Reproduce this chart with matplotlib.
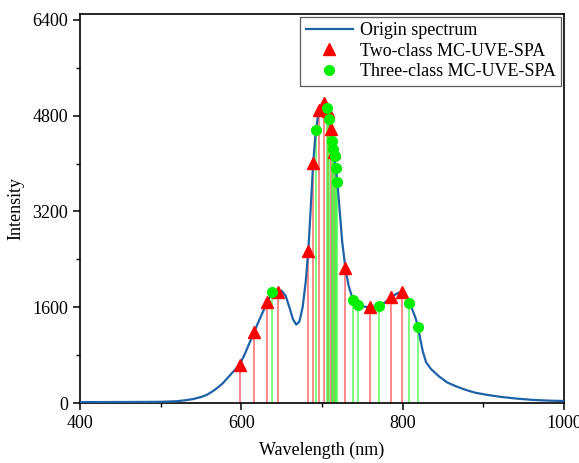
import matplotlib
matplotlib.use("Agg")
import matplotlib.pyplot as plt
from matplotlib.ticker import MultipleLocator

# Origin spectrum
wl = [400, 420, 440, 460, 480, 500, 520, 530, 540, 550, 557, 565, 570, 577, 583, 590,
      598, 605, 610, 616, 622, 628, 632, 638, 645, 650, 655, 660, 664, 668, 672, 676,
      680, 683, 686, 689, 692, 696, 700, 703, 706, 709, 712, 715, 719, 722, 725, 729,
      733, 738, 742, 745, 752, 759, 765, 771, 778, 786, 793, 799, 803, 808, 812, 816,
      819, 822, 825, 829, 835, 845, 855, 865, 878, 890, 905, 920, 940, 961, 980, 1000]
inten = [15, 15, 16, 17, 18, 20, 30, 45, 65, 100, 134, 200, 250, 329, 420, 524,
         640, 840, 1000, 1190, 1380, 1560, 1690, 1830, 1865, 1875, 1790, 1580, 1400, 1310, 1360, 1600,
         2050, 2540, 3250, 4000, 4500, 4900, 5000, 5000, 4920, 4750, 4450, 4150, 3700, 3200, 2700, 2250,
         1960, 1740, 1665, 1640, 1610, 1600, 1605, 1625, 1680, 1770, 1830, 1860, 1810, 1690, 1560, 1420,
         1276, 1060, 860, 680, 570, 445, 345, 285, 220, 172, 135, 105, 75, 52, 40, 33]

# Two-class MC-UVE-SPA selected wavelengths
red_x = [598, 616, 632, 645, 683, 689, 696, 703, 707, 711, 715, 729, 759, 786, 799]
red_y = [635, 1192, 1694, 1861, 2542, 4008, 4900, 5010, 4880, 4577, 4200, 2252, 1610, 1767, 1861]

# Three-class MC-UVE-SPA selected wavelengths
green_x = [638, 693, 706, 708.5, 712.5, 714, 715.5, 717, 719, 738, 745, 771, 808, 819]
green_y = [1851, 4565, 4928, 4749, 4386, 4242, 4119, 3925, 3700, 1722, 1639, 1622, 1677, 1276]

plt.rcParams['font.family'] = ['Liberation Serif', 'DejaVu Serif']
plt.rcParams['font.size'] = 13

fig = plt.figure(figsize=(5.79, 4.63), dpi=100)
ax = fig.add_axes([80/579, 1-403/463, (564-80)/579, (403-14)/463])

ax.vlines(red_x, 0, red_y, colors='#ff4545', linewidth=1.1, alpha=0.8, zorder=2)
ax.vlines(green_x, 0, green_y, colors='#30ff30', linewidth=1.1, alpha=0.8, zorder=2)
ax.plot(wl, inten, color='#1f62a8', linewidth=1.6, zorder=3, label='Origin spectrum')
ax.plot(red_x, red_y, linestyle='none', marker='^', color='red', markersize=8,
        zorder=4, label='Two-class MC-UVE-SPA')
ax.plot(green_x, green_y, linestyle='none', marker='o', color='#00f000', markersize=7,
        zorder=5, label='Three-class MC-UVE-SPA')

ax.set_xlim(400, 1000)
ax.set_ylim(0, 6500)
ax.set_xticks([400, 600, 800, 1000])
ax.set_yticks([0, 1600, 3200, 4800, 6400])
ax.xaxis.set_minor_locator(MultipleLocator(100))
ax.yaxis.set_minor_locator(MultipleLocator(800))
ax.tick_params(which='major', direction='out', length=5, width=1.1, labelsize=13)
ax.tick_params(which='minor', direction='out', length=3, width=1.0)
ax.tick_params(top=False, right=False, which='both')
for s in ax.spines.values():
    s.set_linewidth(1.2)

ax.set_xlabel('Wavelength (nm)', fontsize=13, labelpad=7)
ax.set_ylabel('Intensity', fontsize=13, labelpad=6)

leg = ax.legend(loc='upper right', fontsize=13, frameon=True, fancybox=False,
                edgecolor='#333333', borderaxespad=0.15, handlelength=2.6,
                handletextpad=0.4, labelspacing=0.2, borderpad=0.3)
leg.get_frame().set_linewidth(0.9)

fig.savefig('out.png', dpi=100)
